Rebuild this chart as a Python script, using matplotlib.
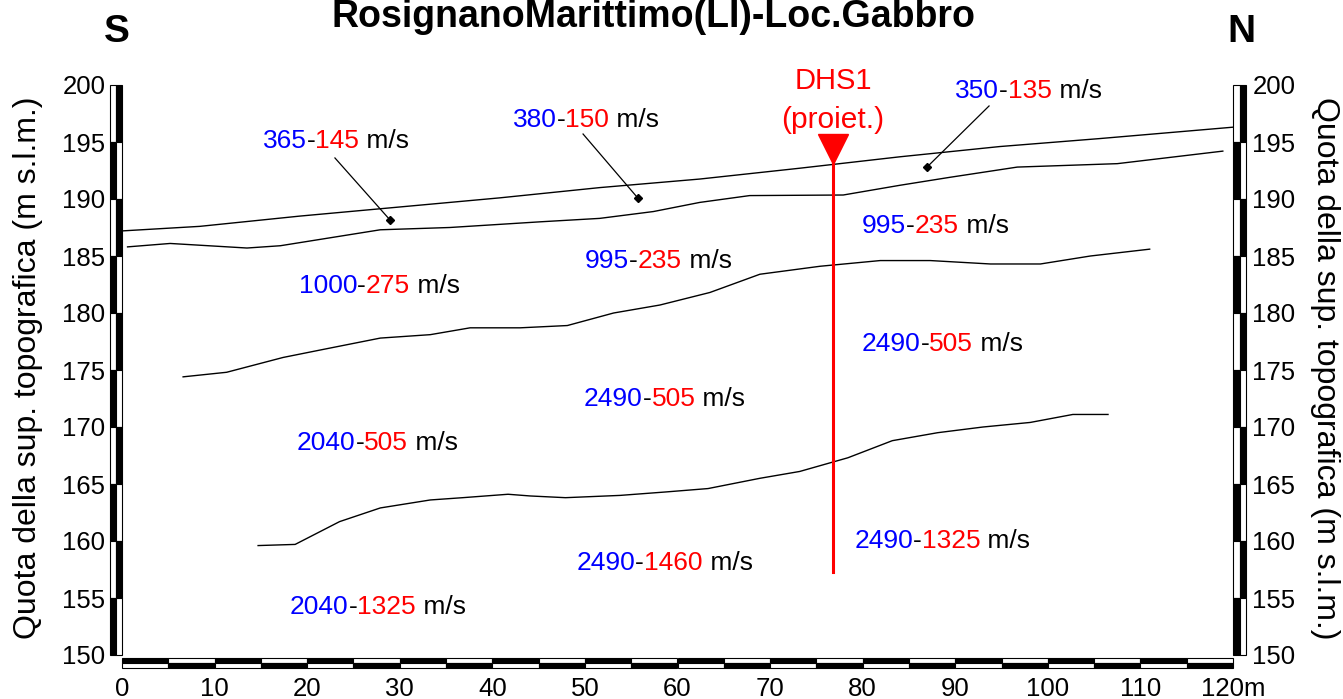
import numpy as np
import matplotlib.pyplot as plt
from matplotlib.patches import Rectangle

plt.rcParams['font.family'] = ['Liberation Sans', 'DejaVu Sans']

# superficie topografica
topo_x = [0, 8.4, 19.2, 30.0, 40.8, 51.6, 62.4, 73.2, 84.0, 94.8, 105.6, 120]
topo_y = [187.2, 187.6, 188.5, 189.3, 190.1, 191.0, 191.75, 192.7, 193.7, 194.6, 195.3, 196.3]

# interfacce sismiche
int1_x = [0.6, 5.2, 13.5, 17.1, 22.5, 27.9, 35.4, 45.2, 51.6, 57.4, 62.4, 67.8, 77.9, 84.0, 89.4, 96.7, 107.5, 118.9]
int1_y = [185.8, 186.1, 185.7, 185.9, 186.6, 187.3, 187.5, 188.0, 188.3, 188.9, 189.7, 190.3, 190.35, 191.2, 191.9, 192.8, 193.1, 194.2]

int2_x = [6.6, 11.3, 17.4, 21.7, 27.9, 33.3, 37.6, 43.0, 48.1, 53.1, 58.1, 63.5, 68.9, 75.4, 81.9, 87.3, 93.8, 99.2, 104.6, 111.0]
int2_y = [174.4, 174.8, 176.1, 176.8, 177.8, 178.1, 178.7, 178.7, 178.9, 180.0, 180.7, 181.8, 183.4, 184.1, 184.6, 184.6, 184.3, 184.3, 185.0, 185.6]

int3_x = [14.7, 18.7, 23.5, 27.9, 33.3, 36.8, 41.7, 44.1, 47.9, 53.8, 58.7, 63.3, 68.9, 73.2, 78.4, 83.2, 88.1, 93.0, 98.1, 102.7, 106.5]
int3_y = [159.6, 159.7, 161.7, 162.9, 163.6, 163.8, 164.1, 163.95, 163.8, 164.0, 164.3, 164.6, 165.5, 166.1, 167.3, 168.8, 169.5, 170.0, 170.4, 171.1, 171.1]

# sondaggio DHS1
dhs_x = 76.8
dhs_top = 194.4
dhs_bot = 157.3

# velocita' Vp (blu) - Vs (rosso)
vel_p = ['365', '380', '350', '1000', '995', '995', '2490', '2490', '2040', '2490', '2490', '2040']
vel_s = ['145', '150', '135', '275', '235', '235', '505', '505', '505', '1460', '1325', '1325']
lab_x = [15.2, 42.2, 90.0, 19.1, 50.0, 79.9, 79.9, 49.9, 18.9, 49.1, 79.1, 18.15]
lab_y = [194.47, 196.3, 198.86, 181.75, 183.95, 187.0, 176.67, 171.8, 168.0, 157.5, 159.4, 153.6]

# frecce dei primi strati
arr_x0 = [23.0, 49.8, 93.65]
arr_y0 = [193.6, 195.7, 198.16]
arr_x1 = [28.95, 55.7, 86.95]
arr_y1 = [188.16, 190.1, 192.8]

x_ticks = list(range(0, 121, 10))
x_labels = [str(v) for v in x_ticks[:-1]] + ['120m']
y_ticks = list(range(150, 201, 5))

fig = plt.figure(figsize=(13.43, 6.99), dpi=100)
ax = fig.add_axes([122/1343, 44/699, 1111/1343, 570/699])
ax.set_xlim(0, 120)
ax.set_ylim(150, 200)

for xs, ys in [(topo_x, topo_y), (int1_x, int1_y), (int2_x, int2_y), (int3_x, int3_y)]:
    ax.plot(xs, ys, color='black', lw=1.0)

for i in range(3):
    ax.plot([arr_x0[i], arr_x1[i]], [arr_y0[i], arr_y1[i]], color='black', lw=0.9)
    ax.plot(arr_x1[i], arr_y1[i], 'kD', ms=4)

ax.plot([dhs_x, dhs_x], [dhs_top, dhs_bot], color='red', lw=2.2)
ax.plot(dhs_x, dhs_top, marker='v', color='red', ms=21, mec='red')
ax.text(dhs_x, 199.65, 'DHS1', color='red', fontsize=21, ha='center', va='baseline')
ax.text(dhs_x, 196.2, '(proiet.)', color='red', fontsize=21.5, ha='center', va='baseline')


def multicolor(x, y, parts, fs=19):
    t = ax.text(x, y, parts[0][0], color=parts[0][1], fontsize=fs, va='baseline', ha='left')
    for s, c in parts[1:]:
        t = ax.annotate(s, xy=(1, 0), xycoords=t, va='bottom', ha='left', color=c, fontsize=fs)


for i in range(len(vel_p)):
    multicolor(lab_x[i], lab_y[i], [(vel_p[i], 'blue'), ('-', 'black'), (vel_s[i], 'red'), (' m/s', 'black')])

# barre graduate bianco/nero
for i in range(10):
    y0 = 200 - 5 * (i + 1)
    c1 = 'white' if i % 2 == 0 else 'black'
    c2 = 'black' if i % 2 == 0 else 'white'
    for xl in (-1.35, 120.05):
        ax.add_patch(Rectangle((xl, y0), 0.675, 5, fc=c1, ec='black', lw=0.8, clip_on=False))
        ax.add_patch(Rectangle((xl + 0.675, y0), 0.675, 5, fc=c2, ec='black', lw=0.8, clip_on=False))

for j in range(24):
    c1 = 'black' if j % 2 == 0 else 'white'
    c2 = 'white' if j % 2 == 0 else 'black'
    ax.add_patch(Rectangle((5 * j, 149.3), 5, 0.45, fc=c1, ec='black', lw=0.8, clip_on=False))
    ax.add_patch(Rectangle((5 * j, 148.85), 5, 0.45, fc=c2, ec='black', lw=0.8, clip_on=False))

for s in ax.spines.values():
    s.set_visible(False)
ax.set_xticks(x_ticks, x_labels)
ax.set_yticks(y_ticks)
ax.tick_params(axis='both', length=0, labelsize=18.5)
ax.tick_params(axis='x', pad=16)
ax.tick_params(axis='y', pad=12)

ax2 = ax.twinx()
ax2.set_ylim(150, 200)
ax2.set_yticks(y_ticks)
ax2.tick_params(axis='y', length=0, labelsize=18.5, pad=14)
for s in ax2.spines.values():
    s.set_visible(False)

ylab = 'Quota della sup. topografica (m s.l.m.)'
fig.text(28/1343, 1 - 368/699, ylab, rotation=90, ha='center', va='center', fontsize=23)
fig.text(1325/1343, 1 - 368/699, ylab, rotation=270, ha='center', va='center', fontsize=23)

fig.text(653/1343, 1 - 27/699, 'RosignanoMarittimo(LI)-Loc.Gabbro', ha='center', va='baseline',
         fontsize=27, fontweight='bold')
fig.text(117/1343, 1 - 42/699, 'S', ha='center', va='baseline', fontsize=28, fontweight='bold')
fig.text(1241/1343, 1 - 42/699, 'N', ha='center', va='baseline', fontsize=28, fontweight='bold')

fig.savefig('out.png', dpi=100)
